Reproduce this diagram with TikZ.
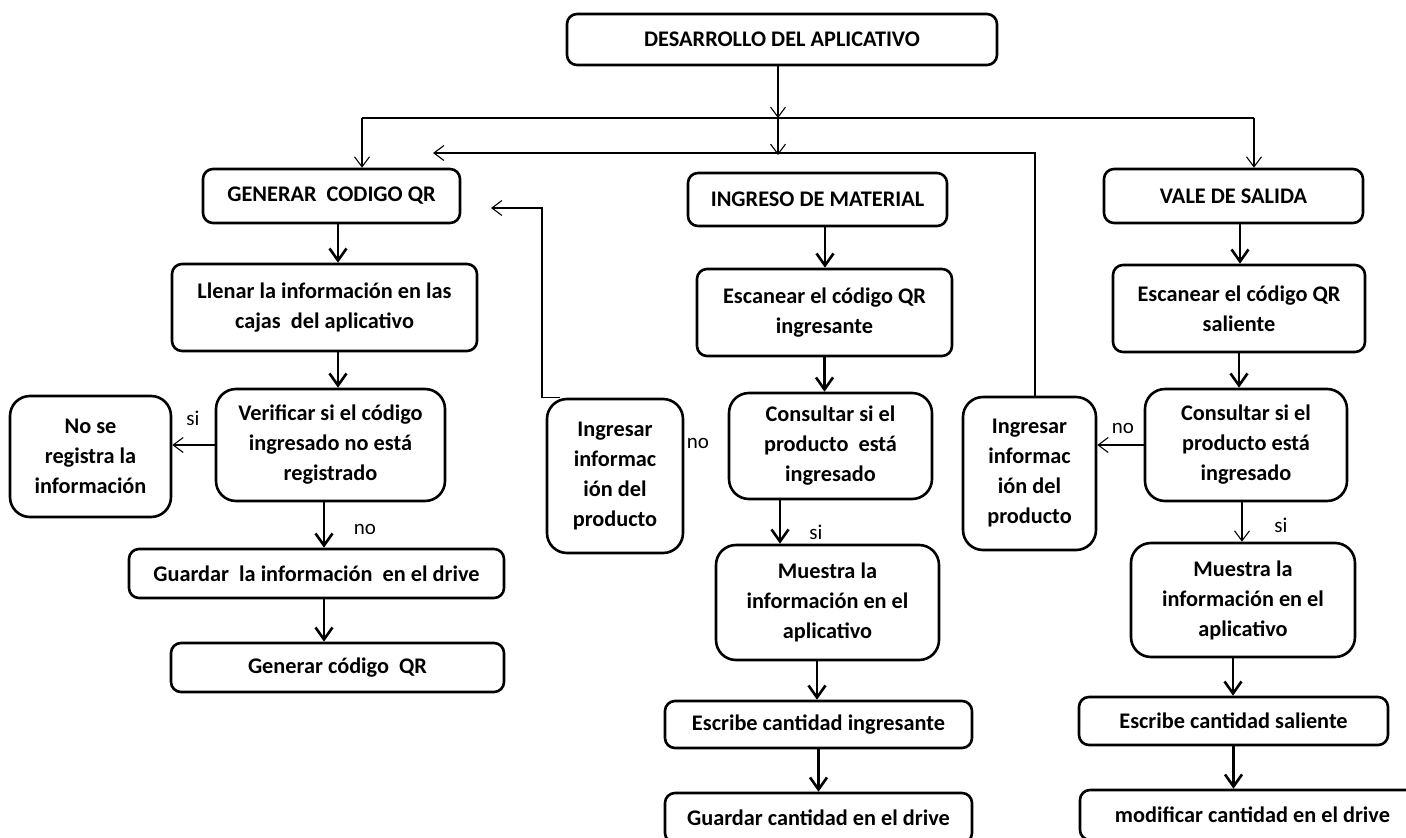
\documentclass[tikz,border=0pt]{standalone}
\usepackage{fontspec}
\setmainfont{Carlito}
\usepackage{tikz}
\usetikzlibrary{arrows.meta,calc}

\begin{document}
\begin{tikzpicture}[x=1pt,y=-1pt,
    caja/.style={draw,line width=2.6pt,rounded corners=10pt,inner sep=0pt,align=center,
      font=\bfseries\fontsize{22.3}{30}\selectfont},
    cajaalta/.style={caja,rounded corners=20pt},
    flecha/.style={-{Straight Barb[length=12pt,width=17pt]},line width=2.6pt},
    linea/.style={-{Straight Barb[length=10pt,width=15pt]},line width=1.1pt},
    etiqueta/.style={font=\fontsize{21}{24}\selectfont,inner sep=0pt}]
    \useasboundingbox (0,0) rectangle (1406,838);

    \node [caja,minimum width=430pt,minimum height=51pt] (desarrollo) at (782,39.5) {DESARROLLO DEL APLICATIVO};
    \node [caja,minimum width=257pt,minimum height=54pt] (generar) at (331.5,196) {GENERAR\ \ CODIGO QR};
    \node [caja,minimum width=259pt,minimum height=53pt] (ingreso) at (817.5,199.5) {INGRESO DE MATERIAL};
    \node [caja,minimum width=259pt,minimum height=54pt] (vale) at (1233.5,196) {VALE DE SALIDA};

    \node [caja,minimum width=305pt,minimum height=87pt] (llenar) at (324.5,307.5) {Llenar la información en las\\cajas\ \ del aplicativo};
    \node [caja,minimum width=255pt,minimum height=87pt] (escanearI) at (824.5,312.5) {Escanear el código QR\\ingresante};
    \node [caja,minimum width=252pt,minimum height=87pt] (escanearS) at (1239,308.5) {Escanear el código QR\\saliente};

    \node [cajaalta,minimum width=229pt,minimum height=112pt] (verificar) at (330.5,445) {Verificar si el código\\ingresado no está\\registrado};
    \node [cajaalta,minimum width=161pt,minimum height=121pt] (noreg) at (90.5,456.5) {No se\\registra la\\información};
    \node [cajaalta,minimum width=136pt,minimum height=154pt] (ingresarL) at (615,476) {Ingresar\\informac\\ión del\\producto};
    \node [cajaalta,minimum width=203pt,minimum height=106pt] (consultarI) at (830.5,446) {Consultar si el\\producto\ \ está\\ingresado};
    \node [cajaalta,minimum width=133pt,minimum height=153pt] (ingresarR) at (1029.5,473.5) {Ingresar\\informac\\ión del\\producto};
    \node [cajaalta,minimum width=202pt,minimum height=112pt] (consultarS) at (1246,445) {Consultar si el\\producto está\\ingresado};

    \node [caja,minimum width=375pt,minimum height=49pt] (guardar) at (316.5,573.5) {Guardar\ \ la información\ \ en el drive};
    \node [cajaalta,minimum width=223pt,minimum height=115pt] (muestraI) at (827.5,602.5) {Muestra la\\información en el\\aplicativo};
    \node [cajaalta,minimum width=224pt,minimum height=114pt] (muestraS) at (1243,600) {Muestra la\\información en el\\aplicativo};
    \node [caja,minimum width=333pt,minimum height=49pt] (generarqr) at (337.5,667.5) {Generar código\ \ QR};
    \node [caja,minimum width=307pt,minimum height=47pt] (escribeI) at (818.5,724.5) {Escribe cantidad ingresante};
    \node [caja,minimum width=309pt,minimum height=48pt] (escribeS) at (1233.5,721) {Escribe cantidad saliente};
    \node [caja,minimum width=307pt,minimum height=50pt] (guardarC) at (818.5,818) {Guardar cantidad en el drive};
    \node [caja,minimum width=345pt,minimum height=50pt] (modificar) at (1252.5,815) {modificar cantidad en el drive};

    \coordinate (split) at (778,118);
    \coordinate (izq) at (362,118);
    \coordinate (der) at (1254,118);
    \coordinate (retorno) at (778,155);
    \coordinate (esquina) at (1035,153);
    \coordinate (puntaR) at (433,153);
    \coordinate (codo) at (542,208);
    \coordinate (puntaL) at (491,208);

    \draw [linea] (desarrollo.south -| split) -- (split);
    \draw [line width=1.1pt] (izq) -- (der);
    \draw [linea] (izq) -- (izq |- generar.north);
    \draw [linea] (der) -- (der |- vale.north);
    \draw [linea] (split) -- (retorno);
    \draw [linea] (ingresarR.north -| esquina) -- (esquina) -- (puntaR);
    \draw [linea] ([xshift=14pt]ingresarL.north west) -- (ingresarL.north west -| codo) -- (codo) -- (puntaL);

    \draw [flecha] ([xshift=6.5pt]generar.south) -- ([xshift=6.5pt]generar.south |- llenar.north);
    \draw [flecha] ([xshift=13.5pt]llenar.south) -- ([xshift=13.5pt]llenar.south |- verificar.north);
    \draw [flecha] ([xshift=-6.5pt]verificar.south) -- ([xshift=-6.5pt]verificar.south |- guardar.north);
    \draw [flecha] ([xshift=7.5pt]guardar.south) -- ([xshift=7.5pt]guardar.south |- generarqr.north);
    \draw [linea] (verificar.west) -- (verificar.west -| noreg.east);

    \draw [flecha] ([xshift=7.5pt]ingreso.south) -- ([xshift=7.5pt]ingreso.south |- escanearI.north);
    \draw [flecha] (escanearI.south) -- (escanearI.south |- consultarI.north);
    \draw [flecha] ([xshift=-50.5pt]consultarI.south) -- ([xshift=-50.5pt]consultarI.south |- muestraI.north);
    \draw [flecha] ([xshift=-10.5pt]muestraI.south) -- ([xshift=-10.5pt]muestraI.south |- escribeI.north);
    \draw [flecha] (escribeI.south) -- (escribeI.south |- guardarC.north);

    \draw [flecha] ([xshift=6.5pt]vale.south) -- ([xshift=6.5pt]vale.south |- escanearS.north);
    \draw [flecha] (escanearS.south) -- (escanearS.south |- consultarS.north);
    \draw [linea] ([xshift=-4pt]consultarS.south) -- ([xshift=-4pt]consultarS.south |- muestraS.north);
    \draw [flecha] ([xshift=-10pt]muestraS.south) -- ([xshift=-10pt]muestraS.south |- escribeS.north);
    \draw [flecha] (escribeS.south) -- (escribeS.south |- modificar.north);
    \draw [linea] (consultarS.west) -- (consultarS.west -| ingresarR.east);

    \node [etiqueta] (si1) at (193,418) {si};
    \node [etiqueta] (no1) at (365,529) {no};
    \node [etiqueta] (no2) at (698,443) {no};
    \node [etiqueta] (si2) at (816,532) {si};
    \node [etiqueta] (no3) at (1123,428) {no};
    \node [etiqueta] (si3) at (1281,525) {si};
\end{tikzpicture}
\end{document}
